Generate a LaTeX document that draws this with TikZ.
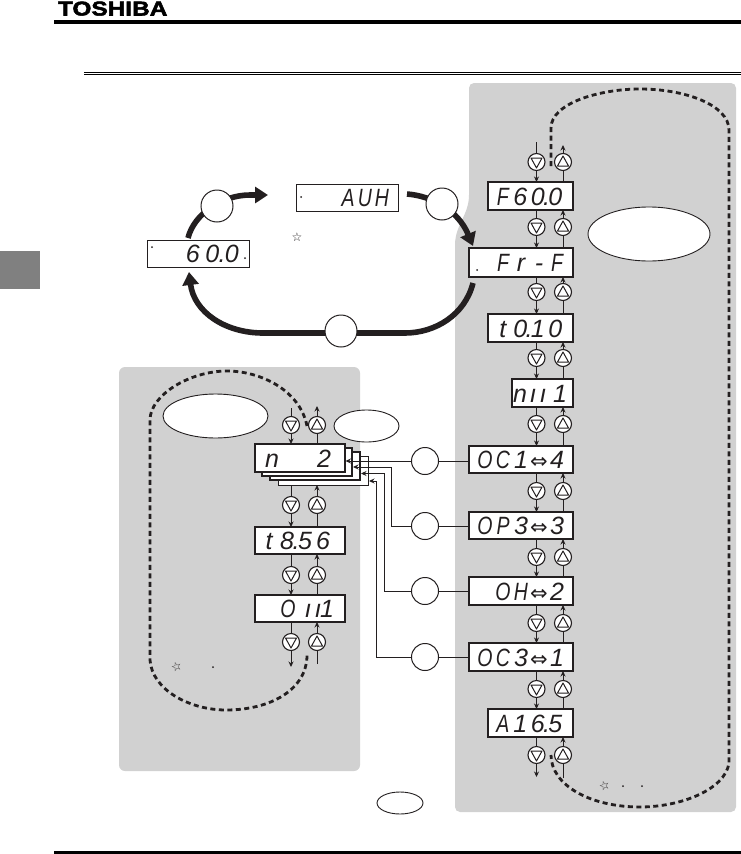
\documentclass[tikz,border=0pt]{standalone}
\usepackage{fontspec}
\usepackage{graphicx}
\usetikzlibrary{arrows.meta,shapes.geometric}
\setmainfont{Liberation Sans}
\newfontfamily\logofont[FakeStretch=1.22,FakeBold=2.5]{Liberation Sans Bold}
\newfontfamily\segfontbase{Liberation Sans Italic}
\newfontfamily\starfont{DejaVu Sans}
\newcommand{\segf}{\fontsize{25}{25}\selectfont\segfontbase}
\newcommand{\sg}[2][18]{\makebox[#1pt][c]{#2}}
\newcommand{\zc}[1]{\makebox[0pt][c]{#1}}
\newcommand{\nw}[1]{\scalebox{0.78}[1]{#1}}
\newcommand{\rw}[2]{\makebox[#1pt][r]{#2}}
\newcommand{\dt}{\makebox[0pt][c]{.}}
\newcommand{\dblarrow}{\sg{\makebox[0pt][c]{\starfont\fontsize{21}{21}\selectfont ⇔}}}
\definecolor{panel}{HTML}{D1D1D1}
\definecolor{tabgrey}{HTML}{808080}
\definecolor{ink}{HTML}{231F20}
\tikzset{
  x=1pt,y=-1pt,
  every node/.style={inner sep=0pt,outer sep=0pt,text=ink},
  disp/.style={rectangle,draw=ink,fill=white,line width=1pt,font=\segf,text height=18pt,text depth=0pt},
  dispb/.style={disp,line width=2pt},
  btn/.style={circle,draw=ink,fill=white,line width=1.1pt,minimum size=17pt},
  cnum/.style={circle,draw=ink,fill=white,line width=1pt,minimum size=27pt},
  cbig/.style={circle,draw=ink,fill=white,line width=1pt,minimum size=32pt},
  oval/.style={ellipse,draw=ink,fill=white,line width=0.9pt},
  link/.style={draw=ink,line width=0.9pt,-{Stealth[length=5.5pt,width=5pt]}},
  plain/.style={draw=ink,line width=0.9pt},
  heavy/.style={draw=ink,line width=5.6pt},
  heavya/.style={heavy,-{Triangle[length=13pt,width=16pt]}},
  dashloop/.style={draw=ink,line width=2.8pt,dash pattern=on 5pt off 3.5pt},
  markdot/.style={circle,fill=ink,minimum size=2pt},
  starmark/.style={font=\starfont\fontsize{12}{12}\selectfont},
}
\newcommand{\bdown}[3]{\node[btn] (#1) at (#2,#3) {};
  \draw[ink,line width=1pt,line join=round] (#2-5.5,#3-4) -- (#2+5.5,#3-4) -- (#2,#3+6) -- cycle;}
\newcommand{\bup}[3]{\node[btn] (#1) at (#2,#3) {};
  \draw[ink,line width=1pt,line join=round] (#2-5.5,#3+4) -- (#2+5.5,#3+4) -- (#2,#3-6) -- cycle;}
\begin{document}
\begin{tikzpicture}
\useasboundingbox (0,0) rectangle (741,854);
% page furniture
\node[anchor=base west,font=\logofont\fontsize{20}{20}\selectfont,text=black] (logo) at (58,15.5) {TOSHIBA};
\fill[black] (54,20) rectangle (741,24);
\fill[black] (84,72) rectangle (741,73);
\fill[black] (84,74.3) rectangle (741,75.3);
\fill[black] (54,851) rectangle (741,853.5);
\fill[tabgrey] (0,251) rectangle (40,289);
% panels
\fill[panel,rounded corners=5pt] (469,190) -- (469,83) -- (736,83) -- (736,812) -- (455,812) -- (455,250) .. controls (455,225) and (469,215) .. (469,190) -- cycle;
\fill[panel,rounded corners=6pt] (119,367) rectangle (360,771);
% dashed loops
\draw[dashloop] (551,166) -- (551,128) .. controls (551,103) and (600,89) .. (640,89) .. controls (685,89) and (729,105) .. (729,130) -- (729,763) .. controls (725,790) and (680,807) .. (640,807) .. controls (590,807) and (551,785) .. (551,755);
\draw[dashloop] (307,426) .. controls (300,390) and (260,371) .. (227,371) .. controls (190,371) and (150,395) .. (150,420) -- (150,660) .. controls (152,690) and (190,710) .. (226,710) .. controls (270,710) and (307,690) .. (307,655);
% ovals
\node[oval,minimum width=122pt,minimum height=54pt] (ovalR) at (649,234) {};
\node[oval,minimum width=105pt,minimum height=44pt] (ovalL) at (215.5,416) {};
\node[oval,minimum width=65pt,minimum height=32pt] (ovalM) at (366.5,426) {};
\node[oval,minimum width=46pt,minimum height=22pt] (ovalB) at (400,803) {};
% top loop
\node[disp,minimum width=102pt,minimum height=27pt] (d600) at (198,253.5) {\rw{100}{\sg[19.5]{6}\sg[19.5]{0}\dt\sg[19.5]{0}\hspace{6.5pt}}};
\node[disp,minimum width=102pt,minimum height=27pt] (dauh) at (347,197.5) {\rw{100}{\sg[17]{\nw{A}}\sg[17]{\nw{U}}\sg[17]{\nw{H}}\hspace{6.5pt}}};
\coordinate (a1s) at (188,238);
\coordinate (a1e) at (268,195);
\coordinate (a2s) at (407,194);
\coordinate (a2e) at (473,246);
\coordinate (a3s) at (473,283);
\coordinate (a3e) at (189,272);
\draw[heavya] (a1s) .. controls (194,214) and (222,195) .. (250,195) -- (a1e);
\draw[heavya] (a2s) .. controls (432,196) and (458,210) .. (a2e);
\draw[heavya] (a3s) .. controls (465,315) and (435,333) .. (405,333) -- (263,333) .. controls (225,333) and (194,312) .. (a3e);
\node[cbig] (c1) at (217,206) {};
\node[cbig] (c2) at (442,204) {};
\node[cbig] (c3) at (341,331) {};
% right column displays
\node[dispb,minimum width=85pt,minimum height=28pt] (rf) at (530.5,196) {\rw{83}{\sg[17.5]{\nw{F}}\sg[17.5]{6}\sg[17.5]{0}\dt\sg[17.5]{0}\hspace{8pt}}};
\node[dispb,minimum width=104pt,minimum height=29pt] (rfr) at (521,262.5) {\rw{102}{\sg{\nw{F}}\sg{r}\sg{-}\sg{\nw{F}}\hspace{6pt}}};
\node[dispb,minimum width=85pt,minimum height=28pt] (rt) at (530.5,328) {\rw{83}{\sg[17.5]{t}\sg[17.5]{0}\dt\sg[17.5]{1}\sg[17.5]{0}\hspace{8pt}}};
\node[dispb,minimum width=61pt,minimum height=28pt] (rn) at (542.5,393) {\rw{59}{\zc{n}\hspace{13pt}\zc{ı}\hspace{10pt}\zc{ı}\hspace{17pt}\zc{1}\hspace{12pt}}};
\node[dispb,minimum width=104pt,minimum height=27pt] (roc1) at (521,459.5) {\rw{102}{\sg{\nw{O}}\sg{\nw{C}}\sg{1}\dblarrow\sg{4}\hspace{6pt}}};
\node[dispb,minimum width=104pt,minimum height=27pt] (rop) at (521,525.5) {\rw{102}{\sg{\nw{O}}\sg{\nw{P}}\sg{3}\dblarrow\sg{3}\hspace{6pt}}};
\node[dispb,minimum width=104pt,minimum height=28pt] (roh) at (521,591) {\rw{102}{\sg{\nw{O}}\sg{\nw{H}}\dblarrow\sg{2}\hspace{6pt}}};
\node[dispb,minimum width=104pt,minimum height=28pt] (roc3) at (521,657) {\rw{102}{\sg{\nw{O}}\sg{\nw{C}}\sg{3}\dblarrow\sg{1}\hspace{6pt}}};
\node[dispb,minimum width=85pt,minimum height=28pt] (ra) at (530.5,723) {\rw{83}{\sg[17.5]{\nw{A}}\sg[17.5]{1}\sg[17.5]{6}\dt\sg[17.5]{5}\hspace{8pt}}};
% right column buttons
\bdown{rd1}{536.5}{162} \bup{ru1}{563}{162}
\bdown{rd2}{536.5}{227} \bup{ru2}{563}{227}
\bdown{rd3}{536.5}{292} \bup{ru3}{563}{292}
\bdown{rd4}{536.5}{358} \bup{ru4}{563}{358}
\bdown{rd5}{536.5}{424} \bup{ru5}{563}{424}
\bdown{rd6}{536.5}{491} \bup{ru6}{563}{491}
\bdown{rd7}{536.5}{557} \bup{ru7}{563}{557}
\bdown{rd8}{536.5}{623} \bup{ru8}{563}{623}
\bdown{rd9}{536.5}{689} \bup{ru9}{563}{689}
\bdown{rd10}{536.5}{755} \bup{ru10}{563}{755}
% right column connectors
\coordinate (rtopd) at (536.5,142);
\coordinate (rtopu) at (563,145);
\coordinate (rbotd) at (536.5,777);
\coordinate (rbotu) at (563,778);
\draw[plain] (rtopd) -- (rd1.north);
\draw[link] (rd1.south) -- (rf.north -| rd1);
\draw[link] (ru1.north) -- (rtopu);
\draw[plain] (rf.north -| ru1) -- (ru1.south);
\foreach \up/\n/\lo in {rf/2/rfr,rfr/3/rt,rt/4/rn,rn/5/roc1,roc1/6/rop,rop/7/roh,roh/8/roc3,roc3/9/ra}{
  \draw[plain] (\up.south -| rd\n) -- (rd\n.north);
  \draw[link] (rd\n.south) -- (\lo.north -| rd\n);
  \draw[plain] (\lo.north -| ru\n) -- (ru\n.south);
  \draw[link] (ru\n.north) -- (\up.south -| ru\n);
}
\draw[plain] (ra.south -| rd10) -- (rd10.north);
\draw[link] (rd10.south) -- (rbotd);
\draw[plain] (rbotu) -- (ru10.south);
\draw[link] (ru10.north) -- (ra.south -| ru10);
% stack of displays
\node[disp,minimum width=90pt,minimum height=29pt,line width=0.9pt,anchor=north east] (s4) at (368,456) {};
\node[disp,minimum width=90pt,minimum height=28pt,line width=1.6pt,anchor=north east] (s3) at (360,452) {};
\node[disp,minimum width=90pt,minimum height=28pt,line width=1.6pt,anchor=north east] (s2) at (352,448) {};
\node[disp,minimum width=90pt,minimum height=28pt,line width=1.2pt] (ln) at (300,458) {\rw{88}{\zc{n}\hspace{52pt}\zc{2}\hspace{20pt}}};
\node[disp,minimum width=90pt,minimum height=27pt,line width=1.2pt] (lt) at (300,540.5) {\rw{88}{\sg{t}\sg{8}\dt\sg{5}\sg{6}\hspace{12pt}}};
\node[disp,minimum width=90pt,minimum height=27pt,line width=1.2pt] (lo) at (300,608.5) {\rw{88}{\zc{\nw{O}}\hspace{20pt}\zc{ı}\hspace{10pt}\zc{ı}\hspace{9pt}\zc{1}\hspace{17pt}}};
% left buttons
\bdown{ld1}{291}{425} \bup{lu1}{317}{425}
\bdown{ld2}{291}{505} \bup{lu2}{317}{505}
\bdown{ld3}{291}{575} \bup{lu3}{317}{575}
\bdown{ld4}{291}{642} \bup{lu4}{317}{642}
\coordinate (ltopd) at (291,408);
\coordinate (ltopu) at (317,406);
\coordinate (lbotd) at (291,667);
\coordinate (lbotu) at (317,664);
\coordinate (s4b) at (300,485);
\draw[plain] (ltopd) -- (ld1.north);
\draw[link] (ld1.south) -- (ln.north -| ld1);
\draw[plain] (ln.north -| lu1) -- (lu1.south);
\draw[link] (lu1.north) -- (ltopu);
\draw[plain] (s4b -| ld2) -- (ld2.north);
\draw[link] (ld2.south) -- (lt.north -| ld2);
\draw[plain] (lt.north -| lu2) -- (lu2.south);
\draw[link] (lu2.north) -- (s4b -| lu2);
\draw[plain] (lt.south -| ld3) -- (ld3.north);
\draw[link] (ld3.south) -- (lo.north -| ld3);
\draw[plain] (lo.north -| lu3) -- (lu3.south);
\draw[link] (lu3.north) -- (lt.south -| lu3);
\draw[plain] (lo.south -| ld4) -- (ld4.north);
\draw[link] (ld4.south) -- (lbotd);
\draw[plain] (lbotu) -- (lu4.south);
\draw[link] (lu4.north) -- (lo.south -| lu4);
% numbered circles and their connectors
\node[cnum] (n1) at (425,461) {};
\node[cnum] (n2) at (425,526) {};
\node[cnum] (n3) at (425,591) {};
\node[cnum] (n4) at (425,657) {};
\coordinate (t1) at (345.5,461);
\coordinate (t2) at (353,467);
\coordinate (t3) at (361,473.5);
\coordinate (t4) at (369,481);
\draw[plain] (n1.east) -- (roc1.west |- n1);
\draw[plain] (n2.east) -- (rop.west |- n2);
\draw[plain] (n3.east) -- (roh.west |- n3);
\draw[plain] (n4.east) -- (roc3.west |- n4);
\draw[link] (n1.west) -- (t1);
\draw[link] (n2.west) -- (391,526) -- (391,467) -- (t2);
\draw[link] (n3.west) -- (384,591) -- (384,473.5) -- (t3);
\draw[link] (n4.west) -- (376,657) -- (376,481) -- (t4);
% stars and dots
\node[starmark] (st1) at (297,237) {☆};
\node[starmark,rotate=90] (st2) at (176,667) {☆};
\node[starmark,rotate=90] (st3) at (604,786) {☆};
\node[markdot] (dp1) at (213,667) {};
\node[markdot] (dp2) at (623,786) {};
\node[markdot] (dp3) at (642,786) {};
\node[markdot] (dp4) at (152,247) {};
\node[markdot] (dp5) at (245,258) {};
\node[markdot] (dp6) at (301,197) {};
\node[markdot] (dp7) at (477,270) {};
\end{tikzpicture}
\end{document}
